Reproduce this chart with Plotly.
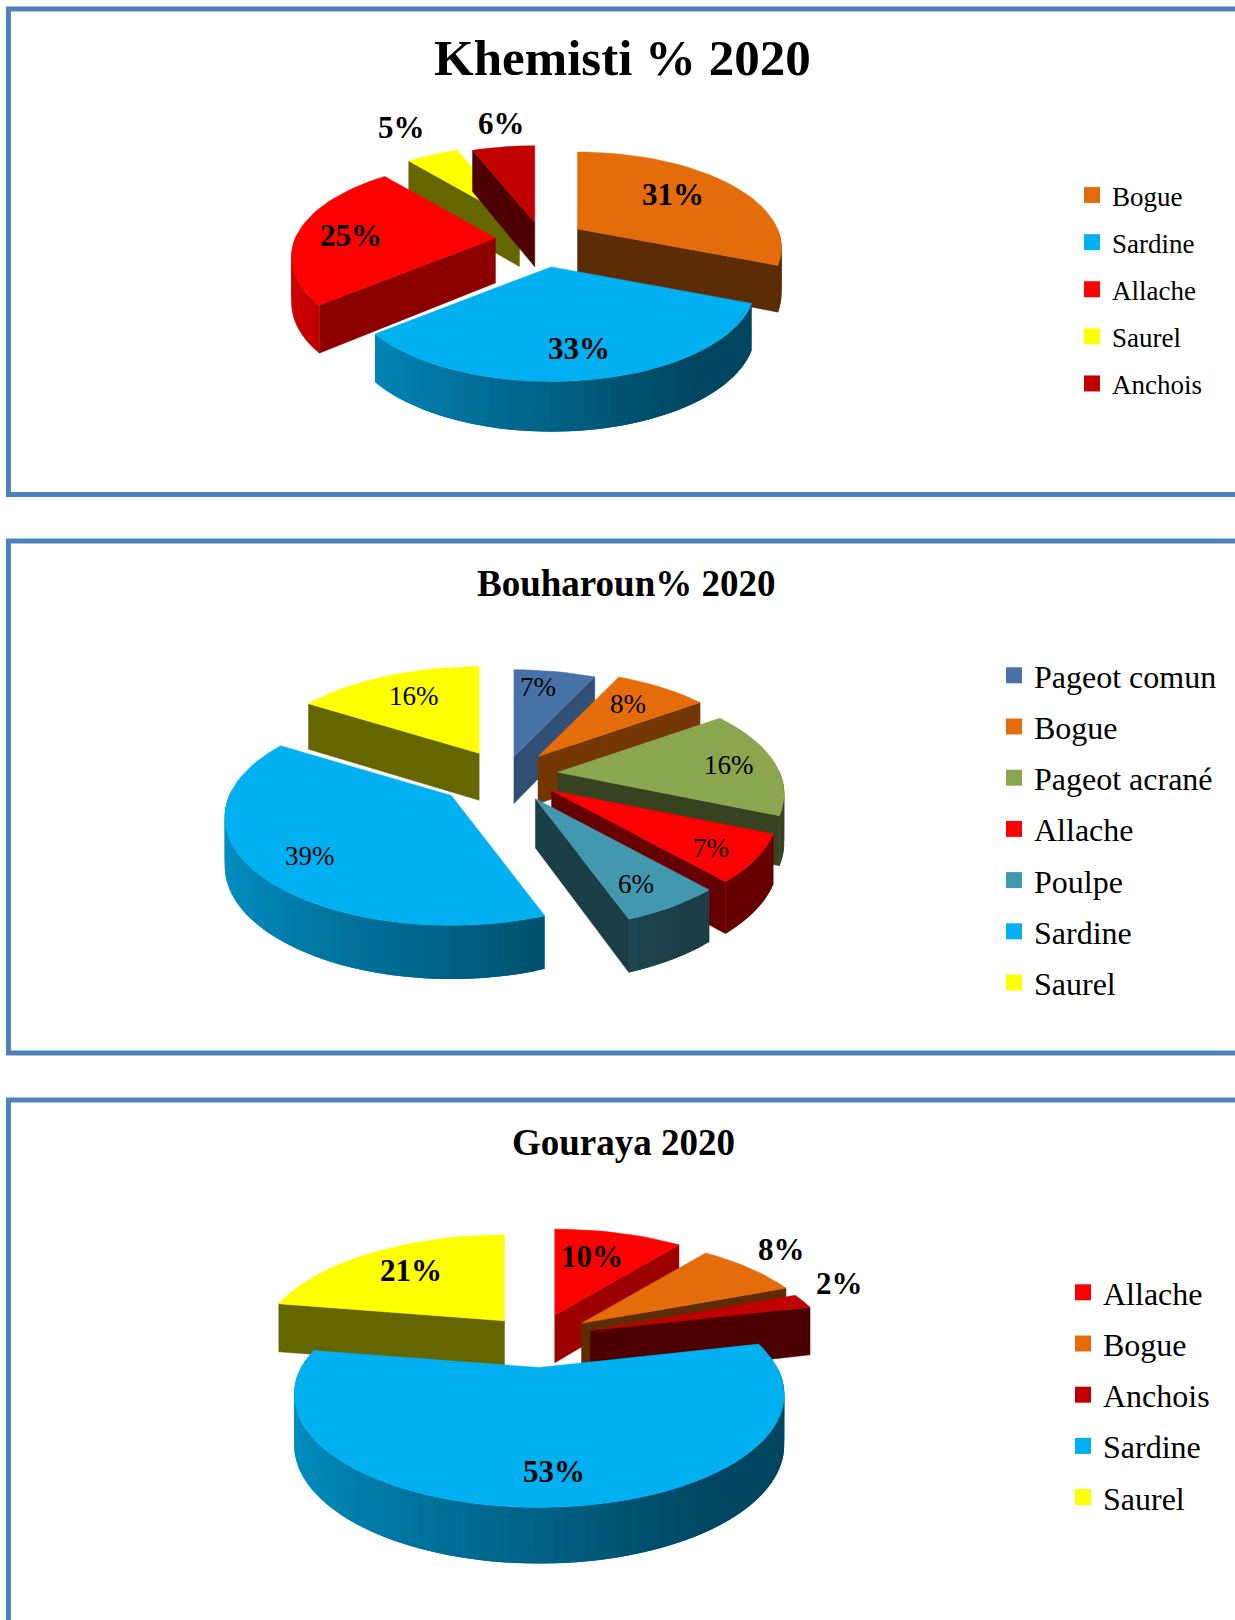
import math
import plotly.graph_objects as go

# ---- data ----
khemisti_names = ["Bogue", "Sardine", "Allache", "Saurel", "Anchois"]
khemisti_values = [31, 33, 25, 5, 6]
bouharoun_names = ["Pageot comun", "Bogue", "Pageot acrané", "Allache", "Poulpe", "Sardine", "Saurel"]
bouharoun_values = [7, 8, 16, 7, 6, 39, 16]
gouraya_names = ["Allache", "Bogue", "Anchois", "Sardine", "Saurel"]
gouraya_values = [10, 8, 2, 53, 21]

# ---- styles ----
COLORS = {"Bogue": "#E46C0A", "Sardine": "#00B0F0", "Allache": "#FF0000", "Saurel": "#FFFF00",
          "Anchois": "#C00000", "Pageot comun": "#4672A6", "Pageot acrané": "#8AA64F", "Poulpe": "#4198AF"}
SERIF = "Liberation Serif"
BORDER = "#4F81BD"
W, H = 1235, 1620

khemisti_style = dict(cx=542, cy=240, rx=200, ry=92, k=0.197, depth=45,
                      pull=[0.22, 0.28, 0.235, 0.23, 0.20],
                      label_xy=[(673, 194), (579, 348), (351, 235), (401, 127), (501, 123)],
                      label_size=31, label_bold=True,
                      title="Khemisti % 2020", title_xy=(622, 58), title_size=51,
                      box=(8.5, 9, 494.5), band=(0, 510))
bouharoun_style = dict(cx=505, cy=775, rx=222, ry=104, k=0.2, depth=48,
                       pull=[0.19, 0.24, 0.24, 0.25, 0.255, 0.30, 0.25],
                       label_xy=[(538, 687), (628, 704), (729, 765), (711, 848), (636, 884), (310, 856), (414, 696)],
                       label_size=27, label_bold=False,
                       title="Bouharoun% 2020", title_xy=(626, 583), title_size=37,
                       box=(8.5, 541, 1053), band=(510, 1075))
gouraya_style = dict(cx=537, cy=1338, rx=238, ry=106.5, k=0.239, depth=49,
                     pull=[0.24, 0.24, 0.24, 0.26, 0.22],
                     label_xy=[(592, 1256), (781, 1249), (839, 1283), (554, 1471), (411, 1270)],
                     label_size=31, label_bold=True,
                     title="Gouraya 2020", title_xy=(623, 1142), title_size=37,
                     box=(8.5, 1100, 1700), band=(1075, 1620))

LEGENDS = [dict(x=1072, y=171, size=27, gap=9),
           dict(x=994, y=648, size=32, gap=6.6),
           dict(x=1063, y=1265, size=32, gap=6.6)]


def shade(hexcol, f):
    r, g, b = int(hexcol[1:3], 16), int(hexcol[3:5], 16), int(hexcol[5:7], 16)
    return f"rgb({r*f:.0f},{g*f:.0f},{b*f:.0f})"


def arange(a, b, step=3.0):
    n = max(2, int(abs(b - a) / step) + 1)
    return [a + (b - a) * i / (n - 1) for i in range(n)]


fig = go.Figure()
annotations, shapes, layout_axes = [], [], {}


def add_poly(pts, color, ax, lw=0.5):
    fig.add_trace(go.Scatter(x=[p[0] for p in pts] + [pts[0][0]], y=[p[1] for p in pts] + [pts[0][1]],
                             mode="lines", fill="toself", fillcolor=color,
                             line=dict(color=color, width=lw), hoverinfo="skip",
                             showlegend=False, xaxis=f"x{ax}", yaxis=f"y{ax}"))


def draw_chart(names, values, st, ax):
    total = sum(values)
    spans, a = [], 0.0
    for v in values:
        spans.append((a, a + v / total * 360))
        a += v / total * 360

    def scale(v):
        return 1 / (1 + st["k"] * v)

    slices = []
    for i, (t0, t1) in enumerate(spans):
        mid = math.radians((t0 + t1) / 2)
        ou, ov = st["pull"][i] * math.sin(mid), st["pull"][i] * math.cos(mid)
        slices.append((ov, i, t0, t1, ou))
    slices.sort(key=lambda z: -z[0])

    for ov, i, t0, t1, ou in slices:
        col = COLORS[names[i]]
        s0 = scale(ov)
        ax0 = st["cx"] + st["rx"] * ou * s0
        ay0 = st["cy"] - st["ry"] * ov * s0

        def rim(t, drop=False):
            r = math.radians(t)
            s = scale(math.cos(r))
            y = ay0 - st["ry"] * math.cos(r) * s
            if drop:
                y += st["depth"] * math.sqrt(s)
            return ax0 + st["rx"] * math.sin(r) * s, y

        apex, apex_low = (ax0, ay0), (ax0, ay0 + st["depth"] * math.sqrt(s0))
        # radial walls turned towards the viewer
        if math.sin(math.radians(t0)) < -1e-6:
            f = max(0.4, 0.55 - (t0 - 230) * 0.003)
            add_poly([apex, rim(t0), rim(t0, True), apex_low], shade(col, f), ax)
        if math.sin(math.radians(t1)) > 1e-6:
            f = max(0.4, 0.86 - 0.0065 * t1)
            add_poly([apex, rim(t1), rim(t1, True), apex_low], shade(col, f), ax)
        # outer wall, in narrow overlapping strips so the light falls off from left to right
        ts = arange(t0, t1, 2.0)
        for j in range(len(ts) - 2, -1, -1):
            a0, a1 = ts[j], ts[min(j + 2, len(ts) - 1)]
            m = math.radians((ts[j] + ts[j + 1]) / 2)
            if math.cos(m) < 0.02:
                add_poly([rim(a0), rim(ts[j + 1]), rim(a1), rim(a1, True), rim(ts[j + 1], True), rim(a0, True)],
                         shade(col, max(0.4, 0.56 - 0.26 * math.sin(m))), ax, lw=0)
        # top face
        add_poly([apex] + [rim(t) for t in arange(t0, t1)], col, ax)

    for v, (lx, ly) in zip(values, st["label_xy"]):
        txt = f"{v}%"
        annotations.append(dict(x=lx, y=ly, xref=f"x{ax}", yref=f"y{ax}", showarrow=False,
                                text=f"<b>{txt}</b>" if st["label_bold"] else txt,
                                font=dict(family=SERIF, size=st["label_size"], color="black")))
    tx, ty = st["title_xy"]
    annotations.append(dict(x=tx, y=ty, xref=f"x{ax}", yref=f"y{ax}", showarrow=False,
                            text=f"<b>{st['title']}</b>",
                            font=dict(family=SERIF, size=st["title_size"], color="black")))
    bx, by0, by1 = st["box"]
    shapes.append(dict(type="rect", xref=f"x{ax}", yref=f"y{ax}", x0=bx, x1=W + 40, y0=by0, y1=by1,
                       line=dict(color=BORDER, width=5), layer="below"))

    b0, b1 = st["band"]
    suffix = "" if ax == 1 else str(ax)
    layout_axes[f"xaxis{suffix}"] = dict(domain=[0, 1], range=[0, W], visible=False, fixedrange=True)
    layout_axes[f"yaxis{suffix}"] = dict(domain=[1 - b1 / H, 1 - b0 / H], range=[b1, b0], visible=False,
                                         fixedrange=True, anchor=f"x{suffix}")

    lg = LEGENDS[ax - 1]
    lname = "legend" if ax == 1 else f"legend{ax}"
    for n in names:
        fig.add_trace(go.Scatter(x=[None], y=[None], mode="markers", name=n,
                                 marker=dict(symbol="square", size=16, color=COLORS[n]),
                                 legend=lname, legendgroup=f"{ax}-{n}", hoverinfo="skip",
                                 xaxis=f"x{ax}", yaxis=f"y{ax}"))
    layout_axes[lname] = dict(x=lg["x"] / W, y=1 - lg["y"] / H, xanchor="left", yanchor="top",
                              bgcolor="rgba(0,0,0,0)", borderwidth=0, traceorder="grouped",
                              tracegroupgap=lg["gap"], itemsizing="trace", itemclick=False,
                              itemdoubleclick=False, font=dict(family=SERIF, size=lg["size"], color="black"))


draw_chart(khemisti_names, khemisti_values, khemisti_style, 1)
draw_chart(bouharoun_names, bouharoun_values, bouharoun_style, 2)
draw_chart(gouraya_names, gouraya_values, gouraya_style, 3)

fig.update_layout(width=W, height=H, margin=dict(l=0, r=0, t=0, b=0), paper_bgcolor="white",
                  plot_bgcolor="white", showlegend=True, annotations=annotations, shapes=shapes,
                  **layout_axes)

fig.write_html("out.html", config={"displayModeBar": False},
               post_script="document.body.style.margin='0';document.body.style.overflow='hidden';")
